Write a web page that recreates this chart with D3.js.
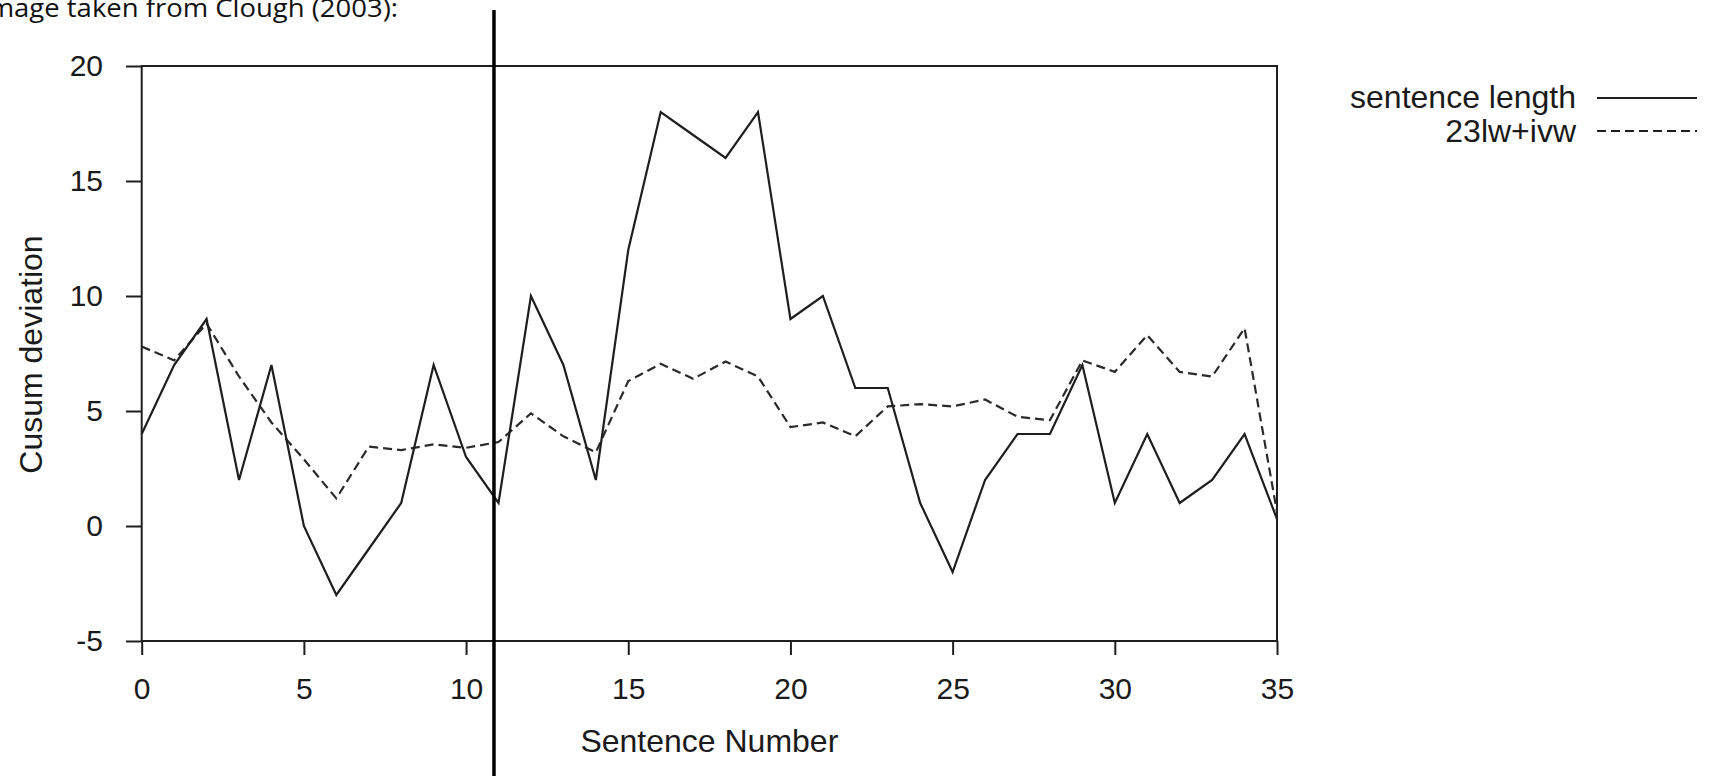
<!DOCTYPE html>
<html>
<head>
<meta charset="utf-8">
<script src="https://cdn.jsdelivr.net/npm/d3@7"></script>
<style>
  html, body { margin: 0; padding: 0; background: #fff; overflow: hidden; }
  svg { display: block; }
</style>
</head>
<body>
<svg id="chart" width="1710" height="776"></svg>
<script>
// ---- data ----
const sentenceNumbers = d3.range(0, 36);
const sentenceLength = [4, 7, 9, 2, 7, 0, -3, -1, 1, 7, 3, 1, 10, 7, 2, 12, 18, 17, 16, 18,
  9, 10, 6, 6, 1, -2, 2, 4, 4, 7, 1, 4, 1, 2, 4, 0.3];
const lwIvw = [7.8, 7.2, 8.8, 6.5, 4.5, 2.9, 1.2, 3.45, 3.3, 3.55, 3.4, 3.65, 4.9, 3.9, 3.2,
  6.3, 7.05, 6.4, 7.15, 6.5, 4.3, 4.5, 3.9, 5.2, 5.3, 5.2, 5.5, 4.75, 4.6, 7.2, 6.7, 8.3,
  6.7, 6.5, 8.6, 0.6];
const xTicks = [0, 5, 10, 15, 20, 25, 30, 35];
const yTicks = [-5, 0, 5, 10, 15, 20];
const seriesNames = ["sentence length", "23lw+ivw"];
const boundaryAt = [10.86];
const titleText = "Image taken from Clough (2003):";
const xLabel = "Sentence Number";
const yLabel = "Cusum deviation";

(function () {
// ---- layout ----
const pLeft = 141.7, pRight = 1277, pTop = 66, pBottom = 641;
const svg = d3.select("#chart");
const x = d3.scaleLinear().domain([0, 35]).range([pLeft, pRight]);
const y = d3.scaleLinear().domain([-5, 20]).range([pBottom, pTop]);
const ink = "#1e1e1e";
const font = "'Liberation Sans', Arial, Helvetica, sans-serif";

// title (cropped at the left edge, as in the reference image)
svg.append("text")
  .attr("x", -19).attr("y", 17)
  .attr("textLength", 417).attr("lengthAdjust", "spacingAndGlyphs")
  .style("font-family", "'Open Sans', 'Noto Sans', sans-serif")
  .style("font-size", "25px").attr("fill", "#111")
  .text(titleText);

// axes
const yAxis = d3.axisLeft(y).tickValues(yTicks).tickSize(15.7).tickPadding(23)
  .tickFormat(d => String(d));
const xAxis = d3.axisBottom(x).tickValues(xTicks).tickSize(14).tickPadding(23)
  .tickFormat(d => String(d));

const gy = svg.append("g").attr("transform", `translate(${pLeft},0)`).call(yAxis);
const gx = svg.append("g").attr("transform", `translate(0,${pBottom})`).call(xAxis);
[gx, gy].forEach(g => {
  g.select(".domain").remove();
  g.selectAll(".tick line").attr("stroke", ink).attr("stroke-width", 2);
  g.selectAll(".tick text").attr("fill", "#1a1a1a")
    .style("font-family", font).style("font-size", "30px");
});

// frame
svg.append("rect")
  .attr("x", pLeft).attr("y", pTop)
  .attr("width", pRight - pLeft).attr("height", pBottom - pTop)
  .attr("fill", "none").attr("stroke", ink).attr("stroke-width", 2);

// axis labels
svg.append("text")
  .attr("x", (pLeft + pRight) / 2).attr("y", 752)
  .attr("text-anchor", "middle")
  .style("font-family", font).style("font-size", "32px").attr("fill", "#1a1a1a")
  .text(xLabel);
svg.append("text")
  .attr("transform", `translate(42,${(pTop + pBottom) / 2 + 1}) rotate(-90)`)
  .attr("text-anchor", "middle")
  .style("font-family", font).style("font-size", "32px").attr("fill", "#1a1a1a")
  .text(yLabel);

// lines
const line = d3.line().x((d, i) => x(sentenceNumbers[i])).y(d => y(d));
svg.append("path").datum(lwIvw)
  .attr("d", line).attr("fill", "none")
  .attr("stroke", "#2a2a2a").attr("stroke-width", 2.2)
  .attr("stroke-dasharray", "9,5");
svg.append("path").datum(sentenceLength)
  .attr("d", line).attr("fill", "none")
  .attr("stroke", ink).attr("stroke-width", 2.2)
  .attr("stroke-linejoin", "miter");

// boundary annotation line
svg.selectAll(".boundary").data(boundaryAt).join("line")
  .attr("class", "boundary")
  .attr("x1", d => x(d)).attr("x2", d => x(d))
  .attr("y1", 10).attr("y2", 776)
  .attr("stroke", "#000").attr("stroke-width", 3.5);

// legend
const legendRight = 1576, lineX1 = 1597, lineX2 = 1697;
const legendRows = [
  { name: seriesNames[0], dash: null, base: 108, ly: 98 },
  { name: seriesNames[1], dash: "9,5", base: 141.5, ly: 131 }
];
legendRows.forEach(r => {
  svg.append("text")
    .attr("x", legendRight).attr("y", r.base)
    .attr("text-anchor", "end")
    .style("font-family", font).style("font-size", "32px").attr("fill", "#1a1a1a")
    .text(r.name);
  svg.append("line")
    .attr("x1", lineX1).attr("x2", lineX2).attr("y1", r.ly).attr("y2", r.ly)
    .attr("stroke", ink).attr("stroke-width", 2.2)
    .attr("stroke-dasharray", r.dash);
});
})();
</script>
</body>
</html>
